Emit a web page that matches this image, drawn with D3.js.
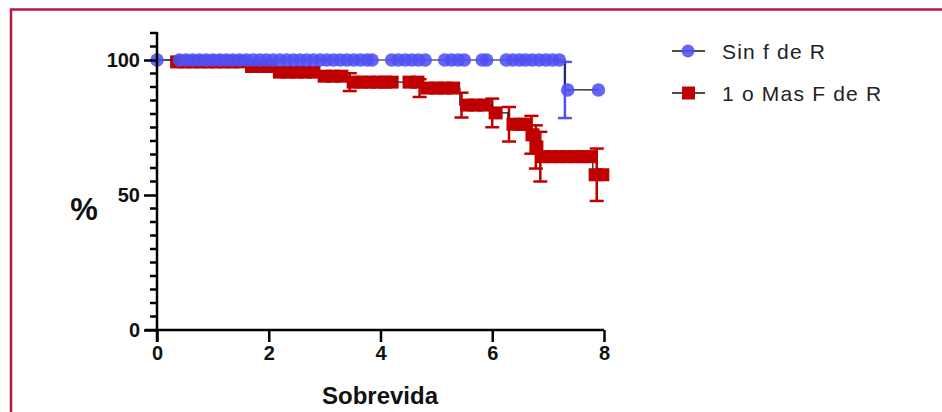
<!DOCTYPE html>
<html>
<head>
<meta charset="utf-8">
<script src="https://cdn.jsdelivr.net/npm/d3@7"></script>
<style>
  body { margin: 0; background: #fff; }
  svg { display: block; font-family: "Liberation Sans", Arial, sans-serif; }
</style>
</head>
<body>
<script>
const w = 942;
const h = 412;

// series names
const seriesNames = ["Sin f de R", "1 o Mas F de R"];

// blue group: survival steps [time, %]
const blueSteps = [[0, 100], [7.3, 88.9], [7.9, 88.9]];
const blueCensor = [0, 0.4, 0.52, 0.64, 0.76, 0.88, 1.0, 1.12, 1.24, 1.36, 1.48, 1.6, 1.72, 1.84, 1.96,
  2.08, 2.2, 2.32, 2.44, 2.56, 2.68, 2.8, 2.92, 3.04, 3.16, 3.28, 3.4, 3.52, 3.64, 3.76, 3.85,
  4.2, 4.32, 4.44, 4.56, 4.68, 4.8, 5.15, 5.27, 5.39, 5.5, 5.82, 5.9,
  6.25, 6.37, 6.49, 6.6, 6.72, 6.84, 6.96, 7.08, 7.2, 7.35, 7.9];
const blueErr = [[7.3, 88.9, 10.4]];

// red group: survival steps [time, %]
const redSteps = [[0, 100], [0.3, 99.3], [1.6, 97.6], [2.1, 95.5], [2.9, 94], [3.4, 91.8], [4.75, 89.6],
  [5.42, 83.3], [6.0, 80.4], [6.28, 76.2], [6.68, 72.3], [6.76, 67.8], [6.82, 64.2], [7.8, 57.5], [8.0, 57.5]];
const redCensor = [0.36, 0.5, 0.64, 0.78, 0.92, 1.06, 1.2, 1.34, 1.48, 1.7, 1.85, 2.0, 2.2, 2.35, 2.5,
  2.65, 2.8, 3.0, 3.15, 3.3, 3.52, 3.66, 3.8, 3.94, 4.08, 4.2, 4.52, 4.66, 4.85, 5.0, 5.15, 5.3,
  5.55, 5.7, 5.85, 6.06, 6.38, 6.5, 6.6, 6.72, 6.79, 6.92, 7.06, 7.2, 7.34, 7.48, 7.62, 7.74, 7.85, 7.97];
const redErr = [[3.45, 91.8, 3.3], [4.7, 89.6, 3.3], [5.45, 83.3, 4.6], [6.0, 80.4, 5.3], [6.3, 76.2, 6.4],
  [6.7, 72.3, 7.0], [6.78, 67.8, 8], [6.86, 64.2, 9.2], [7.87, 57.5, 9.7]];

// axis ticks
const xTicks = [0, 2, 4, 6, 8];
const yMajor = [0, 50, 100];
const yMinor = [5, 10, 15, 20, 25, 30, 35, 40, 45, 55, 60, 65, 70, 75, 80, 85, 90, 95, 105, 110];

const blueCol = "#4f51f5";
const redCol = "#c00000";

const x = d3.scaleLinear().domain([0, 8]).range([157, 604]);
const y = d3.scaleLinear().domain([0, 110]).range([330, 33]);

const svg = d3.select("body").append("svg")
  .attr("width", w)
  .attr("height", h);

// frame
svg.append("path")
  .attr("d", "M11," + h + "V9.5H" + w)
  .attr("fill", "none")
  .attr("stroke", "#b5173f")
  .attr("stroke-width", 2.5);

function level(steps, t) {
  let v = steps[0][1];
  steps.forEach(s => { if (s[0] <= t) v = s[1]; });
  return v;
}

const stepLine = d3.line()
  .x(d => x(d[0]))
  .y(d => y(d[1]))
  .curve(d3.curveStepAfter);

function drawErr(g, data, col) {
  data.forEach(d => {
    const cx = x(d[0]);
    g.append("line").attr("x1", cx).attr("x2", cx)
      .attr("y1", y(d[1] + d[2])).attr("y2", y(d[1] - d[2]))
      .attr("stroke", col).attr("stroke-width", 2.5);
    [d[1] + d[2], d[1] - d[2]].forEach(v => {
      g.append("line").attr("x1", cx - 7).attr("x2", cx + 7)
        .attr("y1", y(v)).attr("y2", y(v))
        .attr("stroke", col).attr("stroke-width", 2.5);
    });
  });
}

// red group (drawn below blue)
const gRed = svg.append("g");
drawErr(gRed, redErr, redCol);
gRed.append("path")
  .datum(redSteps)
  .attr("d", stepLine)
  .attr("fill", "none")
  .attr("stroke", "#111")
  .attr("stroke-width", 1.2);
gRed.selectAll("rect")
  .data(redCensor)
  .enter()
  .append("rect")
  .attr("x", d => x(d) - 7)
  .attr("y", d => y(level(redSteps, d)) - 6.5)
  .attr("width", 14)
  .attr("height", 13)
  .attr("fill", redCol);

// blue group
const gBlue = svg.append("g");
drawErr(gBlue, blueErr, blueCol);
gBlue.append("path")
  .datum(blueSteps)
  .attr("d", stepLine)
  .attr("fill", "none")
  .attr("stroke", "#111")
  .attr("stroke-width", 1.2);
gBlue.selectAll("circle")
  .data(blueCensor)
  .enter()
  .append("circle")
  .attr("cx", d => x(d))
  .attr("cy", d => y(level(blueSteps, d)))
  .attr("r", 6.8)
  .attr("fill", blueCol)
  .attr("fill-opacity", 0.88);

// axes
const xAxis = d3.axisBottom(x).tickValues(xTicks).tickSize(12).tickPadding(4).tickSizeOuter(0);
const gx = svg.append("g")
  .attr("transform", "translate(0,330)")
  .call(xAxis);
gx.select(".domain").attr("d", "M145,0H604");

const yAxis = d3.axisLeft(y).tickValues(yMajor).tickSize(13).tickPadding(4).tickSizeOuter(0);
const gy = svg.append("g")
  .attr("transform", "translate(157,0)")
  .call(yAxis);
gy.select(".domain").attr("d", "M0,32V342");

gy.selectAll(".minor")
  .data(yMinor)
  .enter()
  .append("line")
  .attr("class", "minor")
  .attr("x1", -7).attr("x2", 0)
  .attr("y1", d => y(d)).attr("y2", d => y(d))
  .attr("stroke", "#000").attr("stroke-width", 2.5);

[gx, gy].forEach(g => {
  g.select(".domain").attr("stroke", "#000").attr("stroke-width", 2.5);
  g.selectAll(".tick line").attr("stroke", "#000").attr("stroke-width", 2.5);
  g.selectAll(".tick text")
    .attr("fill", "#111")
    .style("font-size", "20px")
    .style("font-weight", "bold")
    .style("font-family", "'Liberation Sans', Arial, sans-serif");
});

// axis titles
svg.append("text")
  .attr("x", 380).attr("y", 404)
  .attr("text-anchor", "middle")
  .style("font-size", "24px").style("font-weight", "bold")
  .attr("fill", "#111")
  .text("Sobrevida");

svg.append("text")
  .attr("x", 84).attr("y", 220)
  .attr("text-anchor", "middle")
  .style("font-size", "31px").style("font-weight", "bold")
  .attr("fill", "#111")
  .text("%");

// legend
const legend = svg.append("g");
seriesNames.forEach((name, i) => {
  const ly = 51 + i * 42;
  legend.append("line")
    .attr("x1", 672).attr("x2", 705)
    .attr("y1", ly).attr("y2", ly)
    .attr("stroke", "#111").attr("stroke-width", 1.5);
  if (i === 0) {
    legend.append("circle").attr("cx", 688).attr("cy", ly).attr("r", 6.5)
      .attr("fill", blueCol).attr("fill-opacity", 0.88);
  } else {
    legend.append("rect").attr("x", 682).attr("y", ly - 6.5)
      .attr("width", 13).attr("height", 13).attr("fill", redCol);
  }
  legend.append("text")
    .attr("x", 722).attr("y", ly + 8)
    .style("font-size", "21px")
    .style("letter-spacing", "1.2px")
    .attr("fill", "#222")
    .text(name);
});
</script>
</body>
</html>
